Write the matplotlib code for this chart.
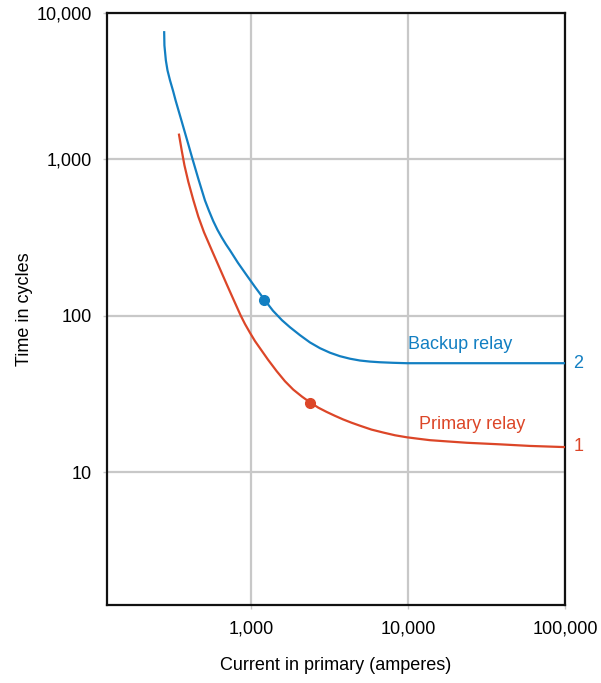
import numpy as np
import matplotlib
matplotlib.use("Agg")
import matplotlib.pyplot as plt

plt.rcParams['font.family'] = ['Liberation Sans', 'DejaVu Sans']

# current (A) vs time (cycles)
backup_i = [280, 281, 287, 294, 305, 319, 331, 362, 399, 423, 462, 509, 540,
            575, 612, 651, 693, 735, 826, 939, 1060, 1219, 1381, 1576, 1772,
            2052, 2375, 2751, 3186, 3689, 4272, 4947, 5728, 6632, 8025, 9815,
            100000]
backup_t = [6500, 5350, 4290, 3705, 3200, 2740, 2383, 1749, 1247, 1015, 751,
            547, 469, 403, 354, 317, 286, 262, 218, 181.5, 153, 126.6, 107.6,
            93.6, 84.4, 75.1, 67.5, 62.0, 58.0, 55.1, 53.1, 51.7, 50.9, 50.4,
            50.0, 49.7, 49.7]

primary_i = [348, 362, 377, 399, 429, 462, 502, 565, 635, 703, 779, 860, 916,
             985, 1060, 1141, 1283, 1458, 1647, 1859, 2112, 2393, 2691, 3035,
             3428, 3871, 4367, 4946, 5855, 6967, 8265, 9815, 11580, 13810,
             17980, 23760, 38550, 59850, 100000]
primary_t = [1438, 1142, 915, 718, 551, 430, 342, 260, 199, 157.6, 125.1, 100.3,
             88.5, 77.9, 68.9, 62.0, 52.4, 44.2, 38.1, 33.7, 30.4, 27.8, 25.8,
             24.25, 22.9, 21.7, 20.7, 19.8, 18.7, 17.9, 17.2, 16.7, 16.35, 16.0,
             15.7, 15.4, 15.05, 14.7, 14.45]

backup_pt = (1218, 126)
primary_pt = (2393, 27.8)

BLUE = "#127fc2"
RED = "#dc4628"

fig = plt.figure(figsize=(6.01, 6.83), dpi=100)
ax = fig.add_axes([0.178, 0.114, 0.762, 0.867])

ax.set_xscale("log")
ax.set_yscale("log")
ax.set_xlim(121, 100000)
ytop = 10 ** 3.936
ax.set_ylim(1.41, ytop)

ax.plot(backup_i, backup_t, color=BLUE, lw=1.6, zorder=3, solid_joinstyle="round")
ax.plot(primary_i, primary_t, color=RED, lw=1.6, zorder=3, solid_joinstyle="round")
ax.plot(*backup_pt, "o", color=BLUE, ms=7, zorder=4)
ax.plot(*primary_pt, "o", color=RED, ms=7, zorder=4)

ax.text(21400, 65.8, "Backup relay", color=BLUE, fontsize=13, ha="center", va="center")
ax.text(25600, 20.3, "Primary relay", color=RED, fontsize=13, ha="center", va="center")
ax.text(1.018, 49.7, "2", color=BLUE, fontsize=13, ha="left", va="center",
        transform=ax.get_yaxis_transform())
ax.text(1.018, 14.5, "1", color=RED, fontsize=13, ha="left", va="center",
        transform=ax.get_yaxis_transform())

ax.set_xticks([1000, 10000, 100000])
ax.set_xticklabels(["1,000", "10,000", "100,000"])
ax.set_yticks([10, 100, 1000, ytop])
ax.set_yticklabels(["10", "100", "1,000", "10,000"])
ax.minorticks_off()
ax.tick_params(axis="both", labelsize=13, length=3, color="#c8c8c8", width=1)
ax.tick_params(axis="x", pad=8)
ax.tick_params(axis="y", pad=8)

ax.grid(True, color="#c8c8c8", lw=1.6)
ax.set_axisbelow(True)
for s in ax.spines.values():
    s.set_linewidth(1.6)
    s.set_color("#111111")

ax.set_xlabel("Current in primary (amperes)", fontsize=13, labelpad=14)
ax.set_ylabel("Time in cycles", fontsize=13, labelpad=2.5)

fig.savefig("out.png", dpi=100)
